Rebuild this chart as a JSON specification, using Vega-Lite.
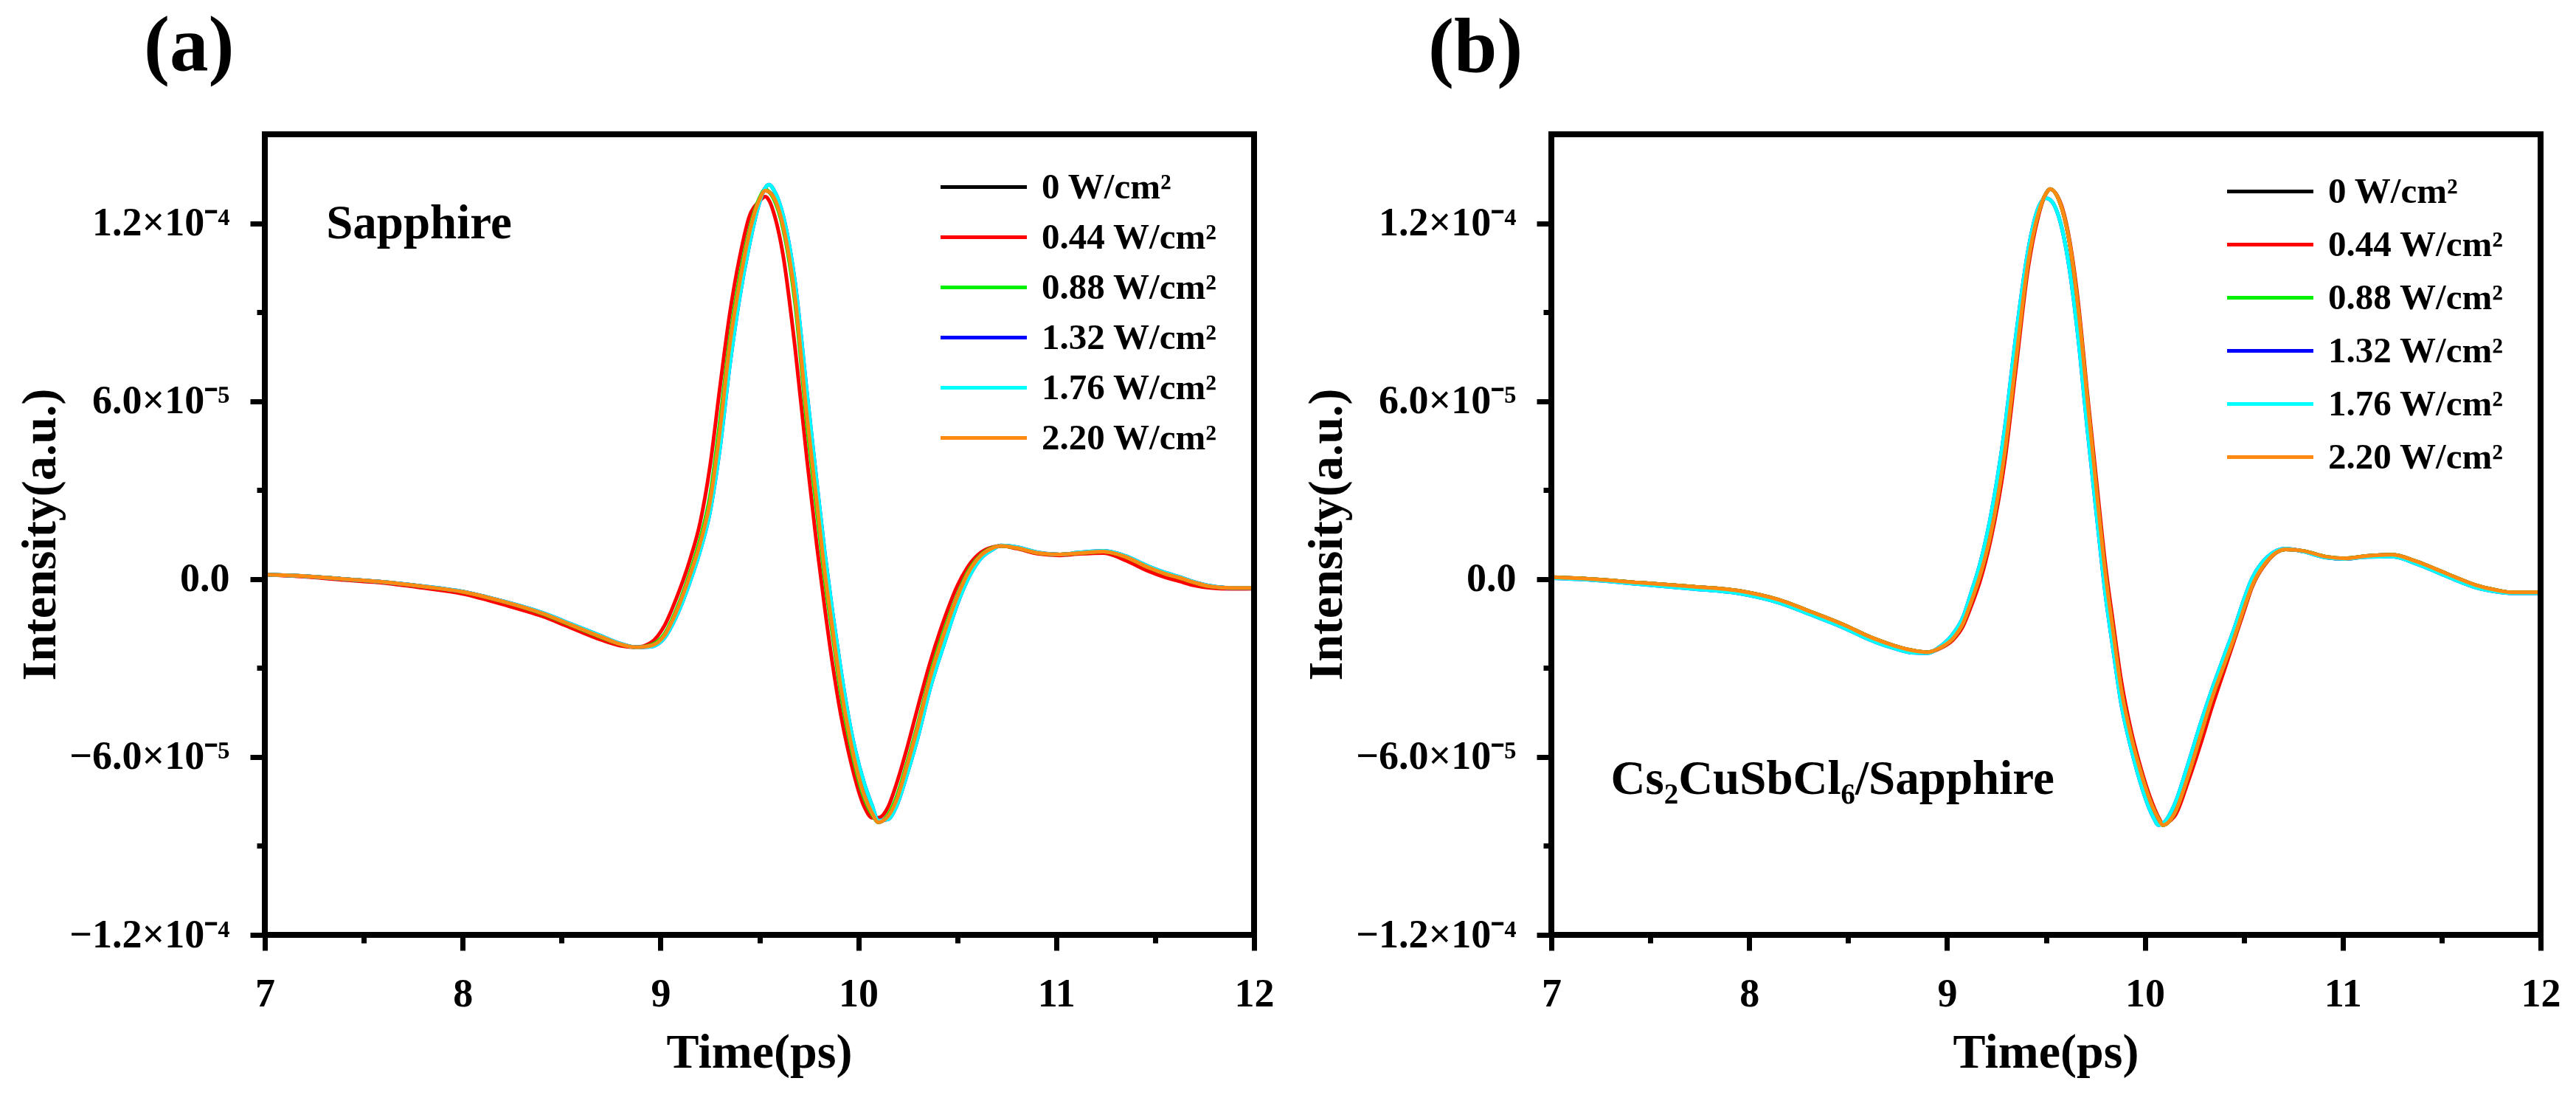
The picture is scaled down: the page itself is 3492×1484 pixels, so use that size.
{
  "$schema": "https://vega.github.io/schema/vega-lite/v6.json",
  "background": "white",
  "padding": {"left": 20, "top": 11, "right": 30, "bottom": 10},
  "config": {
    "font": "Liberation Serif",
    "view": {"stroke": null},
    "axis": {
      "grid": false, "domain": false,
      "tickColor": "#000000", "tickWidth": 7,
      "labelFont": "Liberation Serif", "labelFontWeight": "bold", "labelFontSize": 54, "labelColor": "#000000", "labelLimit": 0,
      "titleFont": "Liberation Serif", "titleFontWeight": "bold", "titleFontSize": 66, "titleColor": "#000000"
    },
    "legend": {
      "orient": "none", "legendX": 950, "legendY": 47,
      "title": null, "symbolType": "M-3,0H3", "symbolSize": 1521, "symbolStrokeWidth": 5, "symbolFillColor": "transparent",
      "labelFont": "Liberation Serif", "labelFontWeight": "bold", "labelFontSize": 49, "labelColor": "#000000",
      "labelOffset": 54, "labelLimit": 0, "rowPadding": 18
    },
    "title": {"font": "Liberation Serif", "fontWeight": "bold", "fontSize": 105, "color": "#000000", "anchor": "start", "frame": "group", "baseline": "alphabetic"}
  },
  "spacing": 403,
  "bounds": "flush",
  "resolve": {"scale": {"color": "independent"}},
  "hconcat": [
    {
      "width": 1341, "height": 1085,
      "title": {"text": "(a)", "dx": -164, "offset": 61},
      "layer": [
        {
          "data": {"values": [
            {"time": 7.00, "w0": 1.5, "w044": 1.5, "w088": 1.5, "w132": 1.5, "w176": 1.5, "w220": 1.5},
            {"time": 7.20, "w0": 1.0, "w044": 0.8, "w088": 1.0, "w132": 1.0, "w176": 1.0, "w220": 1.0},
            {"time": 7.40, "w0": 0, "w044": -0.3, "w088": 0, "w132": 0, "w176": 0, "w220": 0},
            {"time": 7.60, "w0": -1, "w044": -1.3, "w088": -1, "w132": -1, "w176": -1, "w220": -1},
            {"time": 7.80, "w0": -2.5, "w044": -3, "w088": -2.5, "w132": -2.4, "w176": -2.4, "w220": -2.5},
            {"time": 8.00, "w0": -4.3, "w044": -5, "w088": -4.3, "w132": -4.2, "w176": -4.2, "w220": -4.3},
            {"time": 8.20, "w0": -7.5, "w044": -8.5, "w088": -7.5, "w132": -7.4, "w176": -7.4, "w220": -7.5},
            {"time": 8.40, "w0": -11.5, "w044": -12.5, "w088": -11.6, "w132": -11.3, "w176": -11.3, "w220": -11.5},
            {"time": 8.55, "w0": -15.5, "w044": -16.5, "w088": -15.6, "w132": -15.2, "w176": -15.2, "w220": -15.5},
            {"time": 8.70, "w0": -19.5, "w044": -20.5, "w088": -19.6, "w132": -19.2, "w176": -19.2, "w220": -19.5},
            {"time": 8.80, "w0": -22, "w044": -22.5, "w088": -22, "w132": -21.8, "w176": -21.8, "w220": -22},
            {"time": 8.88, "w0": -23, "w044": -23, "w088": -23, "w132": -23, "w176": -23, "w220": -23},
            {"time": 8.95, "w0": -22.5, "w044": -21.5, "w088": -22.3, "w132": -22.8, "w176": -22.8, "w220": -22.5},
            {"time": 9.02, "w0": -19, "w044": -15.7, "w088": -18.5, "w132": -19.8, "w176": -19.8, "w220": -19},
            {"time": 9.08, "w0": -11, "w044": -6.5, "w088": -10.3, "w132": -12.6, "w176": -12.6, "w220": -11},
            {"time": 9.15, "w0": 1.5, "w044": 6.8, "w088": 2.5, "w132": -0.7, "w176": -0.7, "w220": 1.5},
            {"time": 9.20, "w0": 12, "w044": 19, "w088": 13.5, "w132": 9.5, "w176": 9.5, "w220": 12},
            {"time": 9.25, "w0": 26, "w044": 38, "w088": 28, "w132": 22.6, "w176": 22.6, "w220": 26},
            {"time": 9.30, "w0": 50, "w044": 64.5, "w088": 53, "w132": 44, "w176": 44, "w220": 50},
            {"time": 9.35, "w0": 79, "w044": 89.5, "w088": 81, "w132": 72, "w176": 72, "w220": 79},
            {"time": 9.40, "w0": 100, "w044": 108.5, "w088": 102, "w132": 95, "w176": 95, "w220": 100},
            {"time": 9.45, "w0": 117, "w044": 122.5, "w088": 118, "w132": 113, "w176": 113, "w220": 117},
            {"time": 9.50, "w0": 128, "w044": 127.5, "w088": 128.5, "w132": 127, "w176": 127, "w220": 128},
            {"time": 9.53, "w0": 131, "w044": 129, "w088": 131.5, "w132": 132, "w176": 132, "w220": 131},
            {"time": 9.55, "w0": 130.5, "w044": 127.5, "w088": 130.5, "w132": 133, "w176": 133, "w220": 130.5},
            {"time": 9.57, "w0": 129, "w044": 124, "w088": 128.5, "w132": 131.5, "w176": 131.5, "w220": 129},
            {"time": 9.62, "w0": 119, "w044": 109, "w088": 118, "w132": 122.5, "w176": 122.5, "w220": 119},
            {"time": 9.68, "w0": 95, "w044": 78, "w088": 93, "w132": 100, "w176": 100, "w220": 95},
            {"time": 9.74, "w0": 55, "w044": 40.5, "w088": 52, "w132": 63, "w176": 63, "w220": 55},
            {"time": 9.79, "w0": 26, "w044": 11.3, "w088": 23, "w132": 32.5, "w176": 32.5, "w220": 26},
            {"time": 9.83, "w0": 2.5, "w044": -9.7, "w088": 0, "w132": 9, "w176": 9, "w220": 2.5},
            {"time": 9.87, "w0": -17, "w044": -28.9, "w088": -19, "w132": -11.5, "w176": -11.5, "w220": -17},
            {"time": 9.91, "w0": -36, "w044": -45.3, "w088": -38, "w132": -30, "w176": -30, "w220": -36},
            {"time": 9.96, "w0": -54.5, "w044": -61.1, "w088": -56, "w132": -50, "w176": -50, "w220": -54.5},
            {"time": 10.03, "w0": -73, "w044": -76.8, "w088": -74, "w132": -69, "w176": -69, "w220": -73},
            {"time": 10.07, "w0": -79, "w044": -80.5, "w088": -79.5, "w132": -76.5, "w176": -76.5, "w220": -79},
            {"time": 10.10, "w0": -82, "w044": -80.5, "w088": -82, "w132": -81.5, "w176": -81.5, "w220": -82},
            {"time": 10.15, "w0": -80, "w044": -76.9, "w088": -79.5, "w132": -81, "w176": -81, "w220": -80},
            {"time": 10.19, "w0": -75, "w044": -69.6, "w088": -74, "w132": -77, "w176": -77, "w220": -75},
            {"time": 10.25, "w0": -62, "w044": -56, "w088": -61, "w132": -65, "w176": -65, "w220": -62},
            {"time": 10.30, "w0": -50, "w044": -43.3, "w088": -49, "w132": -53.5, "w176": -53.5, "w220": -50},
            {"time": 10.36, "w0": -34, "w044": -28.7, "w088": -33, "w132": -37.5, "w176": -37.5, "w220": -34},
            {"time": 10.44, "w0": -17, "w044": -12.4, "w088": -16, "w132": -20.5, "w176": -20.5, "w220": -17},
            {"time": 10.50, "w0": -6, "w044": -2.3, "w088": -5.5, "w132": -8.5, "w176": -8.5, "w220": -6},
            {"time": 10.55, "w0": 1.5, "w044": 3.8, "w088": 2, "w132": -0.5, "w176": -0.5, "w220": 1.5},
            {"time": 10.62, "w0": 8, "w044": 9, "w088": 8.2, "w132": 7, "w176": 7, "w220": 8},
            {"time": 10.68, "w0": 10.5, "w044": 10.8, "w088": 10.6, "w132": 10, "w176": 10, "w220": 10.5},
            {"time": 10.72, "w0": 11.2, "w044": 11.2, "w088": 11.2, "w132": 11.3, "w176": 11.3, "w220": 11.2},
            {"time": 10.80, "w0": 10.5, "w044": 10.3, "w088": 10.5, "w132": 10.8, "w176": 10.8, "w220": 10.5},
            {"time": 10.91, "w0": 8.8, "w044": 8.5, "w088": 8.8, "w132": 9, "w176": 9, "w220": 8.8},
            {"time": 11.02, "w0": 8.3, "w044": 8, "w088": 8.3, "w132": 8.3, "w176": 8.3, "w220": 8.3},
            {"time": 11.12, "w0": 8.8, "w044": 8.5, "w088": 8.8, "w132": 9, "w176": 9, "w220": 8.8},
            {"time": 11.24, "w0": 9.3, "w044": 8.8, "w088": 9.3, "w132": 9.5, "w176": 9.5, "w220": 9.3},
            {"time": 11.35, "w0": 7.5, "w044": 6.3, "w088": 7.5, "w132": 7.8, "w176": 7.8, "w220": 7.5},
            {"time": 11.46, "w0": 4.1, "w044": 2.8, "w088": 4.1, "w132": 4.5, "w176": 4.5, "w220": 4.1},
            {"time": 11.55, "w0": 1.8, "w044": 0.6, "w088": 1.8, "w132": 2.2, "w176": 2.2, "w220": 1.8},
            {"time": 11.62, "w0": 0.5, "w044": -0.7, "w088": 0.5, "w132": 0.8, "w176": 0.8, "w220": 0.5},
            {"time": 11.70, "w0": -1.2, "w044": -2.2, "w088": -1.2, "w132": -1, "w176": -1, "w220": -1.2},
            {"time": 11.78, "w0": -2.5, "w044": -3, "w088": -2.5, "w132": -2.3, "w176": -2.3, "w220": -2.5},
            {"time": 11.88, "w0": -3, "w044": -3.3, "w088": -3, "w132": -3, "w176": -3, "w220": -3},
            {"time": 12.00, "w0": -3, "w044": -3.2, "w088": -3, "w132": -3, "w176": -3, "w220": -3}
          ]},
          "transform": [{"fold": ["w0", "w044", "w088", "w132", "w176", "w220"], "as": ["power", "intensity"]}],
          "mark": {"type": "line", "strokeWidth": 5, "interpolate": "monotone"},
          "encoding": {
            "x": {"field": "time", "type": "quantitative",
              "scale": {"domain": [7, 12], "nice": false, "zero": false},
              "axis": {"title": "Time(ps)", "values": [7, 7.5, 8, 8.5, 9, 9.5, 10, 10.5, 11, 11.5, 12],
                "labelExpr": "datum.value % 1 == 0 ? datum.value + '' : ''",
                "tickSize": {"condition": {"test": "datum.value % 1 != 0", "value": 11}, "value": 21},
                "tickWidth": 7, "tickColor": "#000000",
                "labelBaseline": "alphabetic", "labelPadding": 75, "labelFlush": false, "labelOverlap": false,
                "titleX": 670, "titleY": 179, "titleBaseline": "alphabetic"}},
            "y": {"field": "intensity", "type": "quantitative",
              "scale": {"domain": [-120, 150], "nice": false, "zero": false},
              "axis": {"title": "Intensity(a.u.)", "values": [-120, -90, -60, -30, 0, 30, 60, 90, 120],
                "labelExpr": "datum.value == 120 ? '1.2×10⁻⁴' : datum.value == 60 ? '6.0×10⁻⁵' : datum.value == 0 ? '0.0' : datum.value == -60 ? '−6.0×10⁻⁵' : datum.value == -120 ? '−1.2×10⁻⁴' : ''",
                "tickSize": {"condition": {"test": "datum.value % 60 != 0", "value": 11}, "value": 20},
                "tickWidth": 7, "tickColor": "#000000",
                "labelPadding": 28, "labelFlush": false, "labelOverlap": false,
                "titleX": -285, "titleY": 542, "titleBaseline": "alphabetic", "titleAngle": -90}},
            "color": {"field": "power", "type": "nominal",
              "scale": {"domain": ["w0", "w044", "w088", "w132", "w176", "w220"],
                "range": ["#000000", "#FF0000", "#00F000", "#0000FF", "#00FFFF", "#FF8A12"]},
              "legend": {"labelExpr": "datum.value == 'w0' ? '0 W/cm²' : datum.value == 'w044' ? '0.44 W/cm²' : datum.value == 'w088' ? '0.88 W/cm²' : datum.value == 'w132' ? '1.32 W/cm²' : datum.value == 'w176' ? '1.76 W/cm²' : '2.20 W/cm²'"}}
          }
        },
        {
          "data": {"values": [{"label": "Sapphire"}]},
          "mark": {"type": "text", "align": "left", "baseline": "alphabetic", "font": "Liberation Serif", "fontWeight": "bold", "fontSize": 65, "color": "#000000"},
          "encoding": {"x": {"datum": 7.31}, "y": {"datum": 114.8}, "text": {"field": "label"}}
        },
        {
          "data": {"values": [{"frame": "plot"}]},
          "mark": {"type": "rect", "filled": false, "color": "#000000", "strokeWidth": 8},
          "encoding": {"x": {"datum": 7}, "x2": {"datum": 12}, "y": {"datum": -120}, "y2": {"datum": 150}}
        }
      ]
    },
    {
      "width": 1341, "height": 1085,
      "title": {"text": "(b)", "dx": -167, "offset": 58},
      "layer": [
        {
          "data": {"values": [
            {"time": 7.00, "w0": 0.6, "w044": 0.6, "w088": 0.6, "w132": 0.3, "w176": 0.3, "w220": 0.6},
            {"time": 7.20, "w0": 0, "w044": 0, "w088": 0, "w132": -0.3, "w176": -0.3, "w220": 0},
            {"time": 7.44, "w0": -1.2, "w044": -1.2, "w088": -1.2, "w132": -1.7, "w176": -1.7, "w220": -1.2},
            {"time": 7.70, "w0": -2.5, "w044": -2.5, "w088": -2.5, "w132": -3.2, "w176": -3.2, "w220": -2.5},
            {"time": 7.96, "w0": -4.1, "w044": -4.1, "w088": -4.1, "w132": -5, "w176": -5, "w220": -4.1},
            {"time": 8.15, "w0": -7, "w044": -7, "w088": -7, "w132": -8, "w176": -8, "w220": -7},
            {"time": 8.31, "w0": -11, "w044": -11, "w088": -11, "w132": -12, "w176": -12, "w220": -11},
            {"time": 8.48, "w0": -15.5, "w044": -15.5, "w088": -15.5, "w132": -16.5, "w176": -16.5, "w220": -15.5},
            {"time": 8.61, "w0": -19.5, "w044": -19.5, "w088": -19.5, "w132": -20.5, "w176": -20.5, "w220": -19.5},
            {"time": 8.73, "w0": -22.4, "w044": -22.4, "w088": -22.4, "w132": -23.3, "w176": -23.3, "w220": -22.4},
            {"time": 8.82, "w0": -24, "w044": -24, "w088": -24, "w132": -24.8, "w176": -24.8, "w220": -24},
            {"time": 8.90, "w0": -24.7, "w044": -24.7, "w088": -24.7, "w132": -25, "w176": -25, "w220": -24.7},
            {"time": 8.97, "w0": -23, "w044": -23.2, "w088": -23, "w132": -22.5, "w176": -22.5, "w220": -23},
            {"time": 9.03, "w0": -20, "w044": -20.5, "w088": -20, "w132": -18.5, "w176": -18.5, "w220": -20},
            {"time": 9.08, "w0": -15, "w044": -16, "w088": -15, "w132": -13, "w176": -13, "w220": -15},
            {"time": 9.12, "w0": -8, "w044": -9.5, "w088": -8, "w132": -5, "w176": -5, "w220": -8},
            {"time": 9.17, "w0": 2, "w044": 0, "w088": 2, "w132": 6, "w176": 6, "w220": 2},
            {"time": 9.22, "w0": 15, "w044": 13, "w088": 15, "w132": 21, "w176": 21, "w220": 15},
            {"time": 9.29, "w0": 42, "w044": 39, "w088": 42, "w132": 50, "w176": 50, "w220": 42},
            {"time": 9.35, "w0": 75, "w044": 72, "w088": 75, "w132": 83, "w176": 83, "w220": 75},
            {"time": 9.41, "w0": 107, "w044": 105, "w088": 107, "w132": 111, "w176": 111, "w220": 107},
            {"time": 9.46, "w0": 123, "w044": 122, "w088": 123, "w132": 125, "w176": 125, "w220": 123},
            {"time": 9.50, "w0": 130, "w044": 130, "w088": 130, "w132": 128.5, "w176": 128.5, "w220": 130},
            {"time": 9.52, "w0": 131.5, "w044": 131.5, "w088": 131.5, "w132": 128, "w176": 128, "w220": 131.5},
            {"time": 9.57, "w0": 127, "w044": 127.5, "w088": 127, "w132": 121, "w176": 121, "w220": 127},
            {"time": 9.62, "w0": 113, "w044": 114, "w088": 113, "w132": 104, "w176": 104, "w220": 113},
            {"time": 9.66, "w0": 93, "w044": 95, "w088": 93, "w132": 83, "w176": 83, "w220": 93},
            {"time": 9.71, "w0": 60, "w044": 62, "w088": 60, "w132": 50, "w176": 50, "w220": 60},
            {"time": 9.76, "w0": 27, "w044": 30, "w088": 27, "w132": 19, "w176": 19, "w220": 27},
            {"time": 9.80, "w0": 2, "w044": 5, "w088": 2, "w132": -5, "w176": -5, "w220": 2},
            {"time": 9.84, "w0": -18, "w044": -15, "w088": -18, "w132": -24, "w176": -24, "w220": -18},
            {"time": 9.88, "w0": -37, "w044": -34, "w088": -37, "w132": -42, "w176": -42, "w220": -37},
            {"time": 9.93, "w0": -53, "w044": -51, "w088": -53, "w132": -57, "w176": -57, "w220": -53},
            {"time": 9.97, "w0": -63, "w044": -61.5, "w088": -63, "w132": -67, "w176": -67, "w220": -63},
            {"time": 10.04, "w0": -77, "w044": -76, "w088": -77, "w132": -80, "w176": -80, "w220": -77},
            {"time": 10.07, "w0": -81, "w044": -80.5, "w088": -81, "w132": -83, "w176": -83, "w220": -81},
            {"time": 10.09, "w0": -83, "w044": -82.5, "w088": -83, "w132": -82.5, "w176": -82.5, "w220": -83},
            {"time": 10.15, "w0": -79, "w044": -80, "w088": -79, "w132": -76, "w176": -76, "w220": -79},
            {"time": 10.22, "w0": -66, "w044": -68, "w088": -66, "w132": -62, "w176": -62, "w220": -66},
            {"time": 10.28, "w0": -53, "w044": -56, "w088": -53, "w132": -49, "w176": -49, "w220": -53},
            {"time": 10.34, "w0": -40, "w044": -43, "w088": -40, "w132": -37, "w176": -37, "w220": -40},
            {"time": 10.40, "w0": -29, "w044": -31, "w088": -29, "w132": -26, "w176": -26, "w220": -29},
            {"time": 10.45, "w0": -20, "w044": -21, "w088": -20, "w132": -17, "w176": -17, "w220": -20},
            {"time": 10.50, "w0": -10, "w044": -11, "w088": -10, "w132": -7, "w176": -7, "w220": -10},
            {"time": 10.54, "w0": -2.5, "w044": -3, "w088": -2.5, "w132": 0, "w176": 0, "w220": -2.5},
            {"time": 10.62, "w0": 6.25, "w044": 6, "w088": 6.25, "w132": 7.5, "w176": 7.5, "w220": 6.25},
            {"time": 10.71, "w0": 10, "w044": 10, "w088": 10, "w132": 10.3, "w176": 10.3, "w220": 10},
            {"time": 10.80, "w0": 9.5, "w044": 9.5, "w088": 9.5, "w132": 9.3, "w176": 9.3, "w220": 9.5},
            {"time": 10.92, "w0": 7.5, "w044": 7.3, "w088": 7.5, "w132": 7.2, "w176": 7.2, "w220": 7.5},
            {"time": 11.01, "w0": 7, "w044": 6.8, "w088": 7, "w132": 6.8, "w176": 6.8, "w220": 7},
            {"time": 11.12, "w0": 7.8, "w044": 7.8, "w088": 7.8, "w132": 7.5, "w176": 7.5, "w220": 7.8},
            {"time": 11.25, "w0": 8.25, "w044": 8.25, "w088": 8.25, "w132": 7.6, "w176": 7.6, "w220": 8.25},
            {"time": 11.37, "w0": 6, "w044": 6, "w088": 6, "w132": 5.2, "w176": 5.2, "w220": 6},
            {"time": 11.48, "w0": 3.1, "w044": 3.1, "w088": 3.1, "w132": 2.2, "w176": 2.2, "w220": 3.1},
            {"time": 11.58, "w0": 0.3, "w044": 0.3, "w088": 0.3, "w132": -0.6, "w176": -0.6, "w220": 0.3},
            {"time": 11.67, "w0": -2, "w044": -2, "w088": -2, "w132": -2.8, "w176": -2.8, "w220": -2},
            {"time": 11.78, "w0": -3.8, "w044": -3.8, "w088": -3.8, "w132": -4.3, "w176": -4.3, "w220": -3.8},
            {"time": 11.86, "w0": -4.5, "w044": -4.5, "w088": -4.5, "w132": -4.8, "w176": -4.8, "w220": -4.5},
            {"time": 12.00, "w0": -4.5, "w044": -4.5, "w088": -4.5, "w132": -4.8, "w176": -4.8, "w220": -4.5}
          ]},
          "transform": [{"fold": ["w0", "w044", "w088", "w132", "w176", "w220"], "as": ["power", "intensity"]}],
          "mark": {"type": "line", "strokeWidth": 5, "interpolate": "monotone"},
          "encoding": {
            "x": {"field": "time", "type": "quantitative",
              "scale": {"domain": [7, 12], "nice": false, "zero": false},
              "axis": {"title": "Time(ps)", "values": [7, 7.5, 8, 8.5, 9, 9.5, 10, 10.5, 11, 11.5, 12],
                "labelExpr": "datum.value % 1 == 0 ? datum.value + '' : ''",
                "tickSize": {"condition": {"test": "datum.value % 1 != 0", "value": 11}, "value": 21},
                "tickWidth": 7, "tickColor": "#000000",
                "labelBaseline": "alphabetic", "labelPadding": 75, "labelFlush": false, "labelOverlap": false,
                "titleX": 670, "titleY": 179, "titleBaseline": "alphabetic"}},
            "y": {"field": "intensity", "type": "quantitative",
              "scale": {"domain": [-120, 150], "nice": false, "zero": false},
              "axis": {"title": "Intensity(a.u.)", "values": [-120, -90, -60, -30, 0, 30, 60, 90, 120],
                "labelExpr": "datum.value == 120 ? '1.2×10⁻⁴' : datum.value == 60 ? '6.0×10⁻⁵' : datum.value == 0 ? '0.0' : datum.value == -60 ? '−6.0×10⁻⁵' : datum.value == -120 ? '−1.2×10⁻⁴' : ''",
                "tickSize": {"condition": {"test": "datum.value % 60 != 0", "value": 11}, "value": 20},
                "tickWidth": 7, "tickColor": "#000000",
                "labelPadding": 28, "labelFlush": false, "labelOverlap": false,
                "titleX": -285, "titleY": 542, "titleBaseline": "alphabetic", "titleAngle": -90}},
            "color": {"field": "power", "type": "nominal",
              "scale": {"domain": ["w0", "w044", "w088", "w132", "w176", "w220"],
                "range": ["#000000", "#FF0000", "#00F000", "#0000FF", "#00FFFF", "#FF8A12"]},
              "legend": {"legendY": 53, "rowPadding": 22,
                "labelExpr": "datum.value == 'w0' ? '0 W/cm²' : datum.value == 'w044' ? '0.44 W/cm²' : datum.value == 'w088' ? '0.88 W/cm²' : datum.value == 'w132' ? '1.32 W/cm²' : datum.value == 'w176' ? '1.76 W/cm²' : '2.20 W/cm²'"}}
          }
        },
        {
          "data": {"values": [{"label": "Cs₂CuSbCl₆/Sapphire"}]},
          "mark": {"type": "text", "align": "left", "baseline": "alphabetic", "font": "Liberation Serif", "fontWeight": "bold", "fontSize": 65, "color": "#000000"},
          "encoding": {"x": {"datum": 7.30}, "y": {"datum": -72.5}, "text": {"field": "label"}}
        },
        {
          "data": {"values": [{"frame": "plot"}]},
          "mark": {"type": "rect", "filled": false, "color": "#000000", "strokeWidth": 8},
          "encoding": {"x": {"datum": 7}, "x2": {"datum": 12}, "y": {"datum": -120}, "y2": {"datum": 150}}
        }
      ]
    }
  ]
}
